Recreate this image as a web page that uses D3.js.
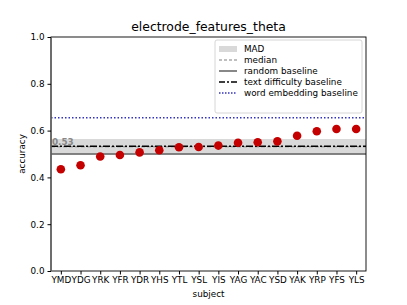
<!DOCTYPE html>
<html>
<head>
<meta charset="utf-8">
<script src="https://cdn.jsdelivr.net/npm/d3@7"></script>
<style>
  body { margin: 0; background: #fff; }
  text { font-family: "DejaVu Sans", sans-serif; }
</style>
</head>
<body>
<div id="chart"></div>
<script>
// data
const subjects = ["YMD", "YDG", "YRK", "YFR", "YDR", "YHS", "YTL", "YSL", "YIS", "YAG", "YAC", "YSD", "YAK", "YRP", "YFS", "YLS"];
const accuracy = [0.435, 0.452, 0.489, 0.496, 0.507, 0.516, 0.529, 0.530, 0.536, 0.548, 0.550, 0.554, 0.578, 0.597, 0.607, 0.607];
const median = 0.531;
const mad = 0.033;
const randomBaseline = 0.5;
const textBaseline = 0.533;
const wordBaseline = 0.655;
const yTicks = [0, 0.2, 0.4, 0.6, 0.8, 1.0];

const width = 407, height = 305;
const margin = { top: 37, right: 41, bottom: 34, left: 51 };

const x = d3.scaleLinear()
  .domain([-0.5, subjects.length - 0.5])
  .range([margin.left, width - margin.right]);
const y = d3.scaleLinear()
  .domain([0, 1])
  .range([height - margin.bottom, margin.top]);

const svg = d3.select("#chart").append("svg")
  .attr("width", width)
  .attr("height", height);

// MAD band
svg.append("rect")
  .attr("x", x(-0.5))
  .attr("width", x(subjects.length - 0.5) - x(-0.5))
  .attr("y", y(median + mad))
  .attr("height", y(median - mad) - y(median + mad))
  .attr("fill", "#d9d9d9");

const hline = (v, stroke, sw, dash) => svg.append("line")
  .attr("x1", x(-0.5)).attr("x2", x(subjects.length - 0.5))
  .attr("y1", y(v)).attr("y2", y(v))
  .attr("stroke", stroke).attr("stroke-width", sw)
  .attr("stroke-dasharray", dash);

hline(median, "#808080", 1.2, "4,2");
hline(randomBaseline, "#606060", 1.5, null);
hline(textBaseline, "#000", 1.5, "7,2,2,2");
hline(wordBaseline, "#3333bb", 1.3, "1.5,2");

svg.append("text")
  .attr("x", x(-0.5) + 1)
  .attr("y", y(median) - 2)
  .attr("font-size", 8.8)
  .attr("font-weight", "bold")
  .attr("fill", "#888")
  .text(median.toFixed(2));

// points
svg.append("g")
  .selectAll("circle")
  .data(accuracy)
  .join("circle")
    .attr("cx", (d, i) => x(i))
    .attr("cy", d => y(d))
    .attr("r", 4.3)
    .attr("fill", "#c40000");

// frame
svg.append("rect")
  .attr("x", margin.left).attr("y", margin.top)
  .attr("width", width - margin.left - margin.right)
  .attr("height", height - margin.top - margin.bottom)
  .attr("fill", "none").attr("stroke", "#000").attr("stroke-width", 0.9);
svg.append("line")
  .attr("x1", margin.left).attr("x2", margin.left)
  .attr("y1", margin.top).attr("y2", height - margin.bottom)
  .attr("stroke", "#666").attr("stroke-width", 1.6);

// axes
const yAxis = svg.append("g")
  .attr("transform", `translate(${margin.left},0)`)
  .call(d3.axisLeft(y).tickValues(yTicks).tickFormat(d3.format(".1f")).tickSize(3.5).tickPadding(3));
const xAxis = svg.append("g")
  .attr("transform", `translate(0,${height - margin.bottom})`)
  .call(d3.axisBottom(x).tickValues(d3.range(subjects.length)).tickFormat(i => subjects[i]).tickSize(3.5).tickPadding(2));
[xAxis, yAxis].forEach(a => {
  a.select(".domain").remove();
  a.selectAll("text").attr("font-size", 8.8).attr("fill", "#000").attr("font-family", "DejaVu Sans, sans-serif");
  a.selectAll("line").attr("stroke", "#000");
});

svg.append("text")
  .attr("x", (margin.left + width - margin.right) / 2)
  .attr("y", 31)
  .attr("text-anchor", "middle")
  .attr("font-size", 12.4)
  .attr("fill", "#000")
  .text("electrode_features_theta");
svg.append("text")
  .attr("x", (margin.left + width - margin.right) / 2)
  .attr("y", 297)
  .attr("text-anchor", "middle")
  .attr("font-size", 8.8)
  .attr("fill", "#000")
  .text("subject");
svg.append("text")
  .attr("transform", `translate(25,${(margin.top + height - margin.bottom) / 2}) rotate(-90)`)
  .attr("text-anchor", "middle")
  .attr("font-size", 8.8)
  .attr("fill", "#000")
  .text("accuracy");

// legend
const legendItems = [
  { label: "MAD", type: "patch" },
  { label: "median", stroke: "#808080", dash: "3,2", sw: 1.2 },
  { label: "random baseline", stroke: "#606060", dash: null, sw: 1.5 },
  { label: "text difficulty baseline", stroke: "#000", dash: "6,2,2,2", sw: 1.5 },
  { label: "word embedding baseline", stroke: "#3333bb", dash: "1.5,1.5", sw: 1.3 }
];
const lg = svg.append("g").attr("transform", "translate(215,40)");
lg.append("rect")
  .attr("width", 147).attr("height", 73).attr("rx", 2)
  .attr("fill", "#fff").attr("fill-opacity", 0.8)
  .attr("stroke", "#ccc").attr("stroke-width", 0.8);
const row = lg.selectAll("g")
  .data(legendItems)
  .join("g")
    .attr("transform", (d, i) => `translate(0,${9 + i * 11})`);
row.filter(d => d.type === "patch").append("rect")
  .attr("x", 4).attr("y", -3).attr("width", 18).attr("height", 6)
  .attr("fill", "#d9d9d9");
row.filter(d => d.type !== "patch").append("line")
  .attr("x1", 4).attr("x2", 22)
  .attr("stroke", d => d.stroke).attr("stroke-width", d => d.sw)
  .attr("stroke-dasharray", d => d.dash);
row.append("text")
  .attr("x", 29).attr("y", 3.2)
  .attr("font-size", 8.8)
  .attr("fill", "#000")
  .text(d => d.label);
</script>
</body>
</html>
